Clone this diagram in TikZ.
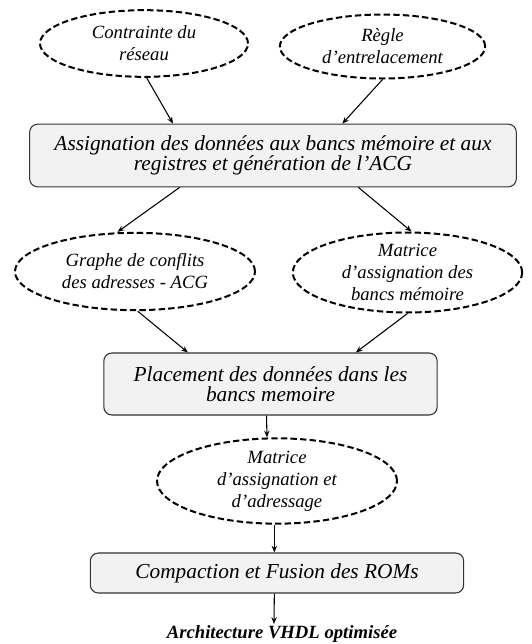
\documentclass[tikz,border=0pt]{standalone}
\usepackage{fontspec}
\setmainfont{Liberation Serif}
\usepackage{tikz}
\usetikzlibrary{arrows.meta,shapes.geometric}
\definecolor{boxgray}{HTML}{F2F2F2}

\begin{document}
\begin{tikzpicture}[x=.75pt,y=-.75pt,
 ar/.style={-{Stealth[length=5pt,width=4pt]},line width=.8pt},
 ell/.style={ellipse,draw,dashed,dash pattern=on 4.8pt off 2.4pt,line width=1.5pt,
  inner sep=0pt,align=center,font=\fontsize{14}{16.5}\selectfont\itshape},
 blk/.style={draw=black!80,rounded corners=6pt,fill=boxgray,line width=.8pt,
  inner sep=0pt,align=center,font=\fontsize{16}{15}\selectfont\itshape}]
\useasboundingbox (0,0) rectangle (532,644);
\node[ell,minimum width=156pt,minimum height=50pt] (contr) at (144,43.5) {Contrainte du\\réseau};
\node[ell,minimum width=154pt,minimum height=48pt] (regle) at (382.5,46.5) {Règle\\d’entrelacement};
\node[blk,minimum width=365pt,minimum height=47pt] (assign) at (273,155.5)
 {Assignation des données aux bancs mémoire et aux\\registres et génération de l’ACG};
\node[ell,minimum width=180pt,minimum height=58pt] (graphe) at (135,271.5) {Graphe de conflits\\des adresses - ACG};
\node[ell,minimum width=172pt,minimum height=59pt] (matass) at (407.5,272.5) {Matrice\\d’assignation des\\bancs mémoire};
\node[blk,minimum width=250pt,minimum height=46.5pt] (place) at (270.5,384)
 {Placement des données dans les\\bancs memoire};
\node[ell,minimum width=180pt,minimum height=57pt] (matadr) at (277,481) {Matrice\\d’assignation et\\d’adressage};
\node[blk,minimum width=280pt,minimum height=30pt] (compact) at (277,573) {Compaction et Fusion des ROMs};
\node[inner sep=1pt,font=\fontsize{14}{16}\selectfont\bfseries\itshape] (archi) at (282,634) {Architecture VHDL optimisée};
% connectors
\draw[ar] ([xshift=2pt]contr.south) -- ([xshift=-75pt]assign.north);
\draw[ar] (regle.south) -- ([xshift=52pt]assign.north);
\draw[ar] ([xshift=-70pt]assign.south) -- ([xshift=-13pt]graphe.north);
\draw[ar] ([xshift=64pt]assign.south) -- ([xshift=3pt]matass.north);
\draw[ar] ([xshift=2pt]graphe.south) -- ([xshift=-62pt]place.north);
\draw[ar] (matass.south) -- ([xshift=64pt]place.north);
\draw[ar] ([xshift=-3pt]place.south) -- ([xshift=-7.5pt]matadr.north);
\draw[ar] ([xshift=-2pt]matadr.south) -- ([xshift=-2pt]compact.north);
\draw[ar] ([xshift=-2pt]compact.south) -- ([xshift=-6pt]archi.north);
\end{tikzpicture}
\end{document}
